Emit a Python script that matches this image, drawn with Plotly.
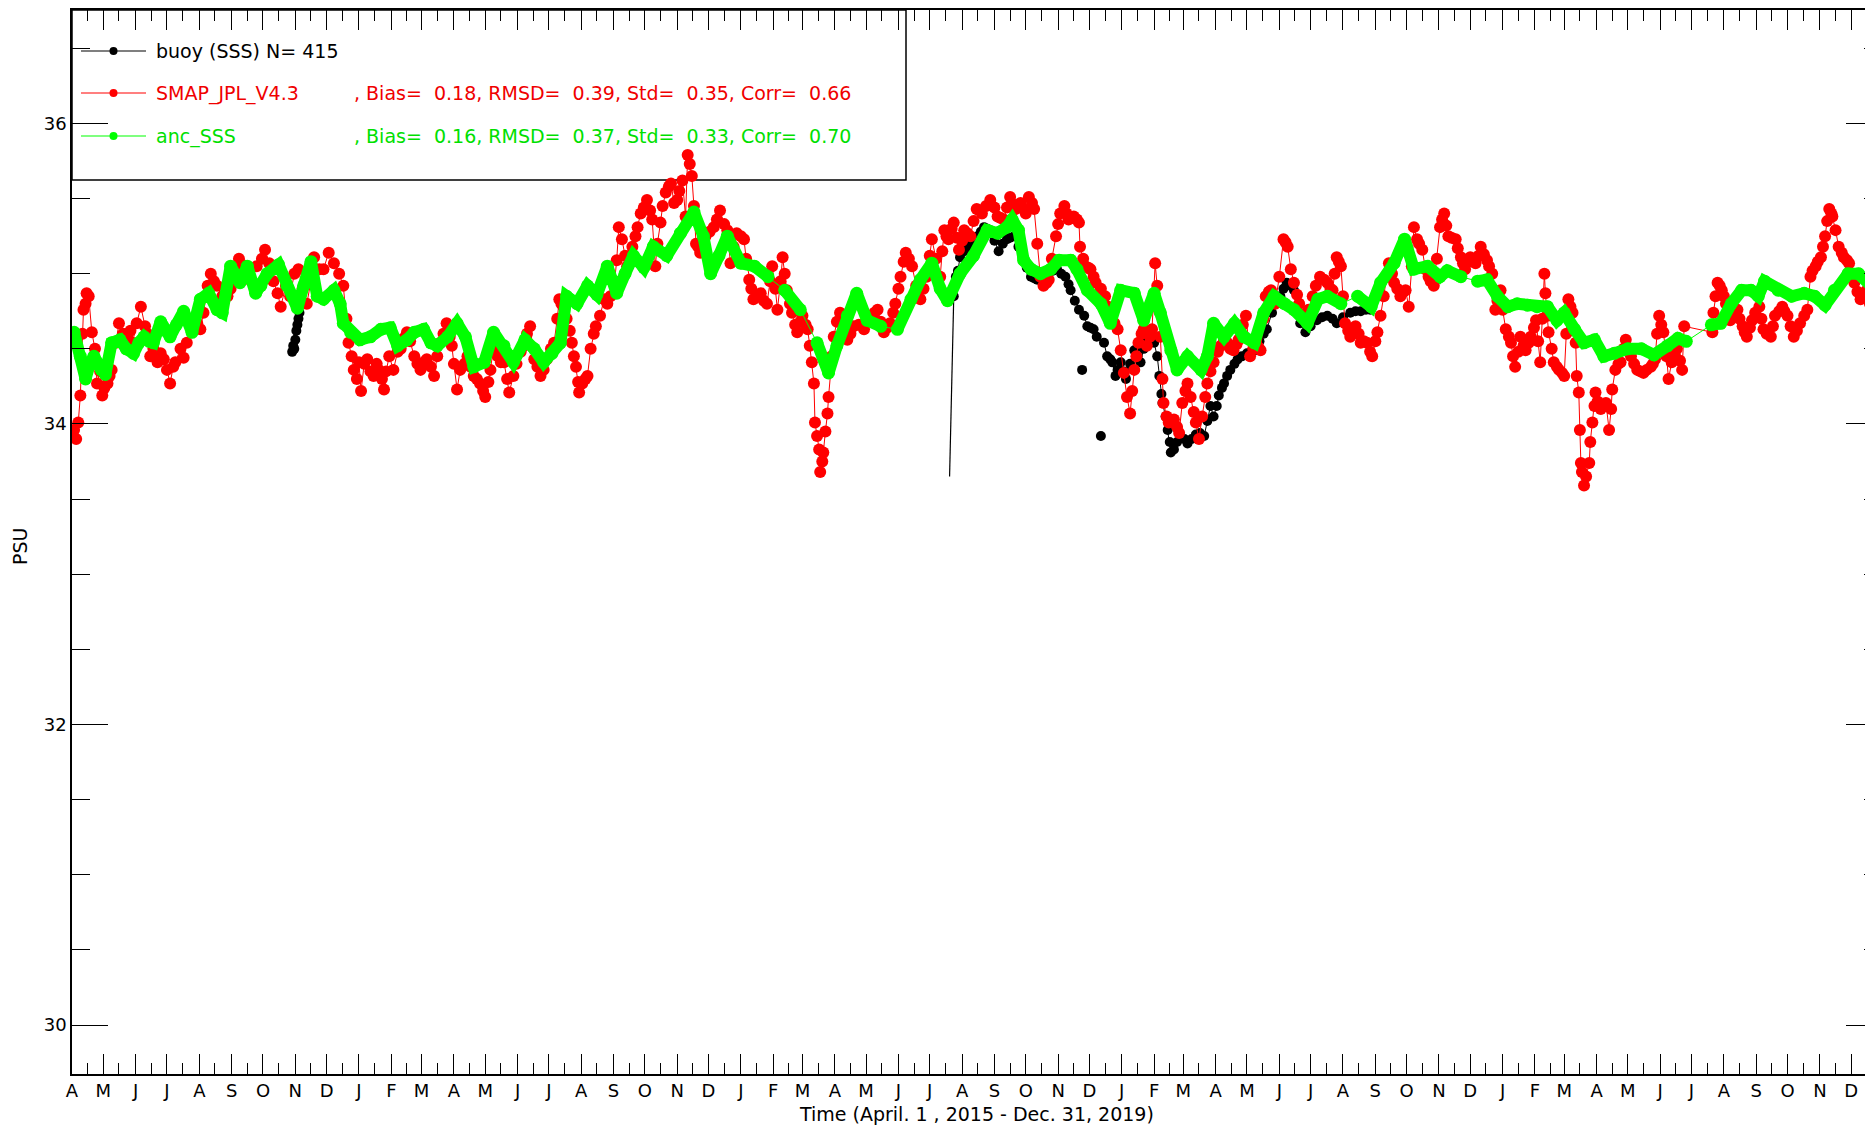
import pandas as pd
import plotly.graph_objects as go

# ---------------- data (days since 2015-04-01, PSU) ----------------
START = "2015-04-01"

buoy_days = [211, 212, 213, 214, 215, 216, 217, 218,
             845, 847, 849, 851, 855, 858, 861, 864, 868, 871, 874, 877, 880, 884, 888, 892, 896, 899,
             903, 907, 911, 915, 919, 922, 925, 929, 932, 935, 940, 944, 948, 952, 955, 957, 961, 965,
             970, 973, 976, 979, 982, 989, 992, 995, 997, 1000, 1002, 1005, 1008, 1010, 1014,
             1018, 1021, 1024, 1027, 1030, 1034, 1037, 1040, 1042, 1044, 1045, 1048, 1050, 1052, 1053,
             1056, 1059, 1062, 1066, 1069, 1073, 1077, 1081, 1085, 1088, 1091, 1094, 1097, 1099, 1102,
             1104, 1107, 1110, 1114, 1117, 1121, 1126, 1130, 1134, 1138, 1142, 1145, 1150, 1154, 1158,
             1161, 1164, 1168, 1171, 1174, 1177, 1182, 1187, 1193, 1198, 1203, 1208, 1212, 1218, 1225,
             1230, 1235, 1240, 1244]
buoy_sss = [34.48, 34.52, 34.50, 34.56, 34.62, 34.66, 34.70, 34.74,
            34.85, 34.98, 35.02, 35.11, 35.15, 35.18, 35.19, 35.20, 35.25, 35.28, 35.31, 35.30, 35.29,
            35.22, 35.15, 35.20, 35.23, 35.24, 35.25, 35.18, 35.11, 35.04, 34.98, 34.97, 34.96, 34.98,
            34.99, 35.00, 35.02, 35.03, 35.00, 34.98, 34.93, 34.89, 34.82, 34.76, 34.72, 34.65,
            34.64, 34.63, 34.58, 34.54, 34.45, 34.43, 34.41, 34.32, 34.36, 34.41, 34.35, 34.30,
            34.40, 34.49, 34.45, 34.41, 34.50, 34.58, 34.56, 34.54, 34.45, 34.32, 34.20, 34.14, 34.05,
            33.96, 33.88, 33.81, 33.83, 33.88, 33.92, 33.90, 33.87, 33.90, 33.93, 33.94, 33.92, 34.02,
            34.12, 34.05, 34.12, 34.19, 34.24, 34.27, 34.32, 34.36, 34.40, 34.43, 34.45, 34.47, 34.48,
            34.49, 34.55, 34.60, 34.63, 34.74, 34.80, 34.85, 34.90, 34.94, 34.92, 34.89, 34.78, 34.67,
            34.61, 34.65, 34.69, 34.71, 34.72, 34.70, 34.67, 34.71, 34.74, 34.75, 34.75, 34.76, 34.76]

# isolated buoy outliers (plotted as dots)
buoy_out_days = [968, 986]
buoy_out_sss = [34.36, 33.92]

# spurious buoy segment (thin line, no marker)
buoy_gap_days = [841, 845]
buoy_gap_sss = [33.65, 34.85]

smap_days = [0, 2, 4, 6, 8, 10, 11, 13, 14, 16, 19, 22, 24, 27, 29, 31, 34, 36, 38, 42, 45, 49, 53, 56,
             58, 62, 66, 70, 72, 75, 78, 82, 85, 88, 91, 94, 97, 99, 104, 107, 110, 115, 120, 123, 126,
             130, 133, 136, 139, 144, 149, 152, 155, 160, 163, 166, 172, 177, 182, 185, 189, 193, 197,
             200, 205, 209, 213, 217, 221, 225, 229, 232, 237, 241, 246, 251, 256, 260, 263, 265, 268,
             270, 273, 275, 277, 280, 283, 286, 289, 292, 294, 297, 299, 301, 304, 308, 312, 315, 318,
             321, 324, 328, 331, 334, 337, 340, 344, 347, 350, 353, 356, 359, 362, 364, 366, 369, 372,
             376, 379, 382, 385, 388, 391, 394, 396, 399, 401, 404, 408, 411,
             414, 417, 419, 423, 426, 430, 433, 436, 439, 443, 446, 449, 452, 455, 459, 462, 465, 467,
             469, 471, 474, 477, 479, 481, 483, 485, 486, 489, 492, 494, 497, 500, 502, 506, 510, 513,
             516, 520, 522, 524, 527, 530, 532, 535, 537, 540, 542, 545, 548, 551, 554, 556, 559, 561,
             564, 566, 569, 572, 574, 577, 580, 582, 585, 588, 590, 592, 594, 596, 598, 600, 602, 605,
             607, 611, 615, 618, 621, 625, 628, 631, 634, 637, 641, 644, 646, 649, 651, 653, 657, 660,
             663, 666, 669, 671, 674, 676, 679, 681, 683, 685, 688, 690, 693, 695, 698, 700, 703, 705,
             707, 709, 711, 712, 714, 716, 717, 719, 720, 722, 724, 725, 728, 730, 733, 736, 740, 743,
             746, 749, 754, 759, 762, 765, 769, 772, 775, 778, 781, 784, 787, 789, 792, 794, 797, 799,
             802, 805, 809, 813, 816, 819, 822, 824,
             828, 832, 834, 836, 838, 840, 843, 845, 848, 850, 853, 855, 858, 861, 864, 867, 870, 872,
             876, 880, 884, 887, 890, 893, 896, 899, 902, 904, 907, 909, 912, 914, 917, 920, 922, 925,
             928, 931, 934, 936, 939, 943, 945, 947, 951, 953, 955, 958, 960, 963, 965, 966, 969, 971,
             974, 976, 979, 981, 986, 990, 993, 995, 999, 1002, 1005, 1008, 1011, 1014, 1016, 1018,
             1020, 1022, 1025, 1027, 1030, 1033, 1035, 1038, 1040, 1042, 1043, 1045, 1046, 1049, 1051,
             1054, 1056, 1059, 1061, 1064, 1067, 1069, 1072, 1075, 1077, 1080, 1083, 1086, 1088, 1091,
             1094, 1098, 1101, 1104, 1107, 1110, 1113, 1116, 1118, 1122, 1125, 1129, 1132, 1134, 1137,
             1139, 1142, 1144, 1147, 1149, 1153, 1157, 1161, 1163, 1165, 1168, 1171, 1174, 1176, 1180,
             1183, 1185, 1189, 1192, 1196, 1200, 1203, 1206, 1208, 1210, 1212, 1214, 1216, 1218, 1220,
             1223, 1225, 1228, 1230, 1233, 1235, 1238, 1241, 1244, 1246, 1249, 1251, 1254, 1257, 1260,
             1262, 1265, 1267, 1270, 1273,
             1276, 1278, 1281, 1284, 1286, 1289, 1291, 1294, 1297, 1300, 1302, 1305, 1308, 1311, 1313,
             1315, 1317, 1319, 1322, 1326, 1328, 1331, 1333, 1335, 1338, 1340, 1343, 1345, 1348, 1350,
             1353, 1356, 1358, 1361, 1364, 1366, 1369, 1371, 1374, 1377, 1379, 1381, 1383, 1386, 1388,
             1391, 1393, 1396, 1398, 1401, 1403, 1405, 1407, 1409, 1411, 1412, 1414, 1415, 1418, 1420,
             1423, 1425, 1428, 1430, 1432, 1434, 1436, 1438, 1440, 1441, 1442, 1444, 1445, 1446, 1447,
             1449, 1451, 1454, 1455, 1457, 1459, 1460, 1462, 1465, 1468, 1470, 1473, 1475, 1476, 1479,
             1482, 1484, 1487, 1489, 1492, 1494, 1497, 1500, 1503, 1506, 1509, 1513, 1515, 1517, 1519,
             1521, 1523, 1525, 1528, 1530, 1533, 1536, 1538, 1541, 1543, 1545, 1572, 1573, 1575, 1577,
             1579, 1581, 1583, 1585, 1587, 1589, 1592, 1596, 1598, 1601, 1603, 1605, 1608, 1610, 1613,
             1617, 1619, 1621, 1624, 1628, 1630, 1632, 1636, 1639, 1641, 1644, 1647, 1650, 1653, 1656,
             1660, 1663, 1666, 1668, 1671, 1673, 1676, 1678, 1680, 1682, 1684, 1686, 1687, 1690, 1693,
             1696, 1698, 1701, 1703, 1706, 1708, 1711, 1714, 1717, 1720, 1723, 1725]
smap_sss = [33.93, 33.96, 33.90, 34.01, 34.19, 34.60, 34.76, 34.80, 34.87, 34.85, 34.61, 34.50, 34.27,
            34.35, 34.19, 34.24, 34.27, 34.32, 34.36, 34.54, 34.67, 34.60, 34.58, 34.62, 34.54, 34.67,
            34.78, 34.65, 34.60, 34.45, 34.50, 34.41, 34.47, 34.43, 34.36, 34.27, 34.38, 34.41, 34.50,
            34.44, 34.54, 34.61, 34.67, 34.63, 34.74, 34.92, 35.00, 34.95, 34.92, 34.85, 34.85, 34.90,
            34.96, 35.10, 35.06, 35.03, 34.95, 35.05, 35.10, 35.16, 35.07, 34.95, 34.87, 34.78, 34.92,
            34.85, 35.00, 35.03, 34.90, 34.80, 34.95, 35.11, 35.03, 35.03, 35.14, 35.07, 35.00, 34.92,
            34.70, 34.54, 34.45, 34.36, 34.30, 34.41, 34.22, 34.40, 34.43, 34.35, 34.32, 34.40, 34.36,
            34.30, 34.23, 34.35, 34.45, 34.36, 34.48, 34.50, 34.57, 34.61, 34.55, 34.45, 34.40, 34.36,
            34.41, 34.43, 34.38, 34.32, 34.45, 34.54, 34.60, 34.67, 34.58, 34.52, 34.40, 34.23, 34.36,
            34.40, 34.45, 34.38, 34.32, 34.30, 34.27, 34.22, 34.18, 34.28, 34.36, 34.50, 34.45, 34.41,
            34.41, 34.30, 34.21, 34.32, 34.40, 34.48, 34.52, 34.60, 34.65, 34.43, 34.38, 34.32, 34.36,
            34.43, 34.50, 34.54, 34.70, 34.83, 34.80, 34.78, 34.70, 34.62, 34.54, 34.45, 34.38, 34.28,
            34.21, 34.27, 34.30, 34.32, 34.50, 34.60, 34.65, 34.72, 34.83, 34.80, 34.85, 34.95, 35.09,
            35.31, 35.23, 35.12, 35.05, 35.12, 35.18, 35.25, 35.31, 35.40, 35.44, 35.49, 35.42, 35.36,
            35.05, 35.20, 35.34, 35.45, 35.54, 35.58, 35.60, 35.47, 35.49, 35.55, 35.62, 35.38, 35.79,
            35.73, 35.65, 35.45, 35.20, 35.18, 35.14, 35.20, 35.25, 35.28, 35.31, 35.36, 35.42, 35.33,
            35.29, 35.07, 35.18, 35.27, 35.25, 35.23, 35.10, 34.96, 34.90, 34.83, 34.85, 34.87, 34.82,
            34.80, 34.95, 35.05, 34.90, 34.76, 34.95, 35.11, 35.00, 34.89, 34.80, 34.74, 34.66, 34.61,
            34.68, 34.72, 34.66, 34.63, 34.52, 34.41, 34.27, 34.01, 33.92, 33.83, 33.68, 33.75, 33.81,
            33.95, 34.07, 34.18, 34.45, 34.58, 34.68, 34.74, 34.65, 34.56, 34.60, 34.65, 34.66, 34.63,
            34.68, 34.72, 34.74, 34.76, 34.68, 34.61, 34.64, 34.67, 34.74, 34.80, 34.90, 34.98, 35.08,
            35.14, 35.10, 35.05, 34.92, 34.83, 34.90, 34.98, 35.12, 35.23,
            35.10, 34.98, 35.15, 35.29, 35.25, 35.23, 35.30, 35.34, 35.24, 35.16, 35.22, 35.29, 35.27,
            35.25, 35.35, 35.43, 35.42, 35.40, 35.45, 35.49, 35.44, 35.38, 35.37, 35.36, 35.44, 35.51,
            35.46, 35.43, 35.45, 35.47, 35.43, 35.40, 35.51, 35.47, 35.43, 35.20, 34.98, 34.92, 34.94,
            34.96, 35.10, 35.25, 35.33, 35.40, 35.45, 35.40, 35.36, 35.37, 35.38, 35.36, 35.34, 35.18,
            35.10, 35.05, 35.04, 35.03, 34.98, 34.94, 34.90, 34.85, 34.78, 34.72, 34.67, 34.63, 34.49,
            34.34, 34.18, 34.07, 34.22, 34.36, 34.45, 34.54, 34.60, 34.63, 34.52, 34.58, 34.63, 35.07,
            34.92, 34.75, 34.58, 34.30, 34.14, 34.05, 34.01, 34.02, 34.03, 33.98, 33.94, 34.14, 34.22,
            34.27, 34.18, 34.08, 34.01, 33.90, 34.05, 34.18, 34.27, 34.35, 34.41, 34.48, 34.52, 34.56,
            34.54, 34.50, 34.49, 34.53, 34.56, 34.66, 34.72, 34.45, 34.50, 34.54, 34.51, 34.49, 34.70,
            34.85, 34.88, 34.89, 34.80, 34.98, 35.23, 35.21, 35.18, 35.03, 34.94, 34.86, 34.80, 34.72,
            34.74, 34.76, 34.85, 34.92, 34.98, 34.96, 34.94, 34.90, 34.89, 35.00, 35.11, 35.08, 35.05,
            34.85, 34.67, 34.62, 34.58, 34.61, 34.65, 34.60, 34.54, 34.55, 34.54, 34.48, 34.45, 34.55,
            34.61, 34.72, 34.85, 34.98, 35.07, 35.00, 34.94, 34.90, 34.85,
            34.88, 34.89, 34.78, 35.05, 35.31, 35.23, 35.20, 35.16, 35.03, 34.98, 34.95, 34.92, 35.10,
            35.31, 35.36, 35.40, 35.32, 35.25, 35.24, 35.23, 35.17, 35.11, 35.07, 35.03, 35.08, 35.11,
            35.09, 35.07, 35.12, 35.18, 35.13, 35.09, 35.05, 35.00, 34.76, 34.82, 34.89, 34.76, 34.63,
            34.58, 34.54, 34.45, 34.38, 34.48, 34.58, 34.52, 34.49, 34.54, 34.58, 34.64, 34.69, 34.55,
            34.41, 34.70, 35.00, 34.87, 34.72, 34.61, 34.50, 34.41, 34.38, 34.36, 34.34, 34.32, 34.60,
            34.83, 34.78, 34.74, 34.62, 34.54, 34.32, 34.21, 33.96, 33.74, 33.68, 33.59, 33.65, 33.74,
            33.88, 34.01, 34.12, 34.21, 34.15, 34.10, 34.12, 34.14, 33.96, 34.10, 34.23, 34.36, 34.40,
            34.41, 34.50, 34.56, 34.50, 34.45, 34.40, 34.36, 34.35, 34.34, 34.36, 34.38, 34.40, 34.43,
            34.60, 34.72, 34.66, 34.61, 34.45, 34.30, 34.41, 34.46, 34.50, 34.42, 34.36, 34.65, 34.61,
            34.74, 34.85, 34.94, 34.92, 34.89, 34.85, 34.80, 34.74, 34.69, 34.72, 34.76, 34.70, 34.65,
            34.61, 34.58, 34.64, 34.69, 34.74, 34.78, 34.70, 34.63, 34.60, 34.58, 34.65, 34.72, 34.75,
            34.78, 34.75, 34.72, 34.65, 34.58, 34.62, 34.67, 34.72, 34.76, 34.98, 35.02, 35.05, 35.08,
            35.11, 35.18, 35.25, 35.35, 35.43, 35.40, 35.38, 35.29, 35.18, 35.14, 35.11, 35.09, 35.07,
            35.00, 34.94, 34.88, 34.83, 34.86, 34.89, 34.80, 34.72]

anc_days = [2, 8, 13, 17, 21, 24, 28, 32, 38, 46, 52, 59, 64, 69, 74, 78, 85, 90, 94, 100, 107, 115, 123,
            131, 139, 144, 152, 161, 168, 176, 181, 187, 198, 206, 216, 222, 229, 235, 241, 251, 257,
            260, 267, 276, 286, 296, 305, 312, 321, 328, 337, 344, 350, 360, 369, 377, 385, 395, 404,
            414, 423, 434, 443, 452, 460, 468, 474, 484, 494, 503, 513, 522, 530, 538, 548, 557, 570,
            583, 596, 605, 612, 620, 628, 641, 654, 667, 683, 698, 714, 725, 733, 743, 752, 762, 775,
            791, 804, 813, 824, 832, 839, 851, 864, 877, 887, 896, 901, 907, 912, 919, 928, 938, 946,
            957, 963, 973, 986, 995, 1005, 1018, 1027, 1037, 1043, 1053, 1059, 1069, 1082, 1088, 1094,
            1104, 1114, 1123, 1133, 1142, 1152, 1162, 1171, 1184, 1194, 1203, 1216, 1232, 1245, 1254,
            1267, 1277, 1286, 1299, 1311, 1318, 1331, 1347, 1356, 1366, 1376, 1385, 1395, 1404, 1414,
            1423, 1430, 1440, 1449, 1459, 1468, 1478, 1491, 1504, 1516, 1529, 1539, 1547, 1571, 1580,
            1590, 1600, 1609, 1616, 1622, 1635, 1648, 1660, 1670, 1680, 1689, 1702, 1712, 1724]
anc_sss = [34.61, 34.45, 34.30, 34.40, 34.45, 34.41, 34.36, 34.33, 34.54, 34.56, 34.50, 34.47, 34.54,
           34.58, 34.55, 34.54, 34.68, 34.62, 34.58, 34.66, 34.75, 34.61, 34.83, 34.87, 34.76, 34.74,
           35.05, 34.94, 35.05, 34.87, 34.92, 35.00, 35.06, 34.92, 34.77, 34.92, 35.08, 34.85, 34.83,
           34.89, 34.80, 34.67, 34.61, 34.56, 34.58, 34.63, 34.64, 34.52, 34.56, 34.61, 34.63, 34.54,
           34.52, 34.58, 34.67, 34.58, 34.38, 34.41, 34.61, 34.52, 34.41, 34.56, 34.50, 34.41, 34.47,
           34.54, 34.85, 34.80, 34.92, 34.86, 35.05, 34.87, 35.00, 35.12, 35.04, 35.18, 35.12, 35.27,
           35.41, 35.25, 35.00, 35.12, 35.25, 35.07, 35.05, 34.98, 34.89, 34.76, 34.54, 34.34, 34.52,
           34.72, 34.87, 34.69, 34.65, 34.63, 34.83, 34.96, 35.07, 34.90, 34.82, 35.00, 35.12, 35.29,
           35.27, 35.31, 35.36, 35.29, 35.09, 35.03, 35.00, 35.03, 35.09, 35.09, 35.03, 34.89, 34.80,
           34.67, 34.89, 34.87, 34.69, 34.87, 34.74, 34.49, 34.36, 34.45, 34.36, 34.45, 34.67, 34.58,
           34.67, 34.58, 34.54, 34.74, 34.85, 34.80, 34.76, 34.67, 34.83, 34.85, 34.80, 34.85, 34.78,
           34.94, 35.07, 35.23, 35.03, 35.05, 34.98, 35.02, 34.98, 34.95, 34.96, 34.85, 34.78, 34.80,
           34.79, 34.78, 34.78, 34.69, 34.74, 34.63, 34.54, 34.56, 34.45, 34.47, 34.50, 34.50, 34.46,
           34.52, 34.57, 34.55, 34.66, 34.67, 34.80, 34.89, 34.89, 34.85, 34.95, 34.89, 34.85, 34.87,
           34.85, 34.79, 34.89, 35.00, 35.00, 34.92]

month_initials = ["J", "F", "M", "A", "M", "J", "J", "A", "S", "O", "N", "D"]

stats_smap = [0.18, 0.39, 0.35, 0.66]
stats_anc = [0.16, 0.37, 0.33, 0.70]
buoy_n = 415

# ---------------- helpers ----------------
base = pd.Timestamp(START)


def to_dates(days):
    return [base + pd.Timedelta(days=d) for d in days]


def broken(days, vals, max_gap):
    """dates/values with a break wherever coverage has a gap"""
    xs, ys = [], []
    for i, (d, v) in enumerate(zip(days, vals)):
        if i > 0 and d - days[i - 1] > max_gap:
            xs.append(None)
            ys.append(None)
        xs.append(base + pd.Timedelta(days=d))
        ys.append(v)
    return xs, ys


# page is offset by the default 8 px body margin
OFF = 8
W, H = 1873 - OFF, 1127 - OFF
L, R, T, B = 64, 0, 2, 53
PW, PH = W - L - R, H - T - B


def px(xp):  # page pixel -> paper
    return (xp - OFF - L) / PW


def py(yp):
    return (H - B - (yp - OFF)) / PH


FONT = "DejaVu Sans"
RED = "#ff0000"
GREEN = "#00ff00"
Y_RANGE = [29.674, 36.755]

band_x, band_y = broken(anc_days, anc_sss, 15)
buoy_x, buoy_y = broken(buoy_days, buoy_sss, 15)

fig = go.Figure()
fig.add_trace(go.Scatter(x=to_dates(buoy_gap_days), y=buoy_gap_sss, mode="lines",
                         line=dict(color="black", width=1.2), showlegend=False, hoverinfo="skip"))
fig.add_trace(go.Scatter(x=buoy_x, y=buoy_y, mode="lines+markers", connectgaps=False,
                         line=dict(color="black", width=1),
                         marker=dict(color="black", size=10), showlegend=False))
fig.add_trace(go.Scatter(x=to_dates(buoy_out_days), y=buoy_out_sss, mode="markers",
                         marker=dict(color="black", size=10), showlegend=False))
fig.add_trace(go.Scatter(x=to_dates(smap_days), y=smap_sss, mode="lines+markers",
                         line=dict(color=RED, width=1),
                         marker=dict(color=RED, size=12), showlegend=False))
fig.add_trace(go.Scatter(x=band_x, y=band_y, mode="lines", connectgaps=False,
                         line=dict(color=GREEN, width=12), showlegend=False, hoverinfo="skip"))
fig.add_trace(go.Scatter(x=to_dates(anc_days), y=anc_sss, mode="lines+markers",
                         line=dict(color=GREEN, width=1),
                         marker=dict(color=GREEN, size=13), showlegend=False))
# empty trace carrying the right-hand tick axis
fig.add_trace(go.Scatter(x=[], y=[], yaxis="y2", showlegend=False, hoverinfo="skip"))

# axis ticks
month_starts = pd.date_range("2015-04-01", "2019-12-01", freq="MS")
tick_text = [month_initials[m.month - 1] for m in month_starts]
mid_months = [m + pd.Timedelta(days=15) for m in month_starts]
x_end = base + pd.Timedelta(days=PW / 1.0435)

fig.update_layout(
    width=W, height=H, autosize=False,
    margin=dict(l=L, r=R, t=T, b=B, pad=0),
    paper_bgcolor="white", plot_bgcolor="white",
    font=dict(family=FONT, size=16, color="black"),
    showlegend=False,
    xaxis=dict(type="date", range=[base, x_end],
               tickmode="array", tickvals=list(month_starts), ticktext=tick_text,
               ticks="inside", ticklen=20, tickwidth=1.2, tickcolor="black",
               showline=True, linecolor="black", linewidth=1.5, mirror="ticks",
               showgrid=False, zeroline=False,
               tickfont=dict(family=FONT, size=18, color="black"),
               minor=dict(tickmode="array", tickvals=mid_months, ticks="inside",
                          ticklen=11, tickwidth=1.2, tickcolor="black", showgrid=False)),
    yaxis=dict(range=Y_RANGE, tickmode="linear", tick0=30, dtick=2,
               ticks="inside", ticklen=36, tickwidth=1.2, tickcolor="black",
               showline=True, linecolor="black", linewidth=1.5, mirror=False,
               showgrid=False, zeroline=False,
               tickfont=dict(family=FONT, size=18, color="black"),
               minor=dict(tick0=30, dtick=0.5, ticks="inside", ticklen=18,
                          tickwidth=1.2, tickcolor="black", showgrid=False)),
    yaxis2=dict(range=Y_RANGE, overlaying="y", side="right", anchor="x",
                tickmode="linear", tick0=30, dtick=2, showticklabels=False,
                ticks="inside", ticklen=27, tickwidth=1.2, tickcolor="black",
                showline=False, showgrid=False, zeroline=False,
                minor=dict(tick0=30, dtick=0.5, ticks="inside", ticklen=9,
                           tickwidth=1.2, tickcolor="black", showgrid=False)),
)

# legend box and entries (IDL-style)
shapes = [dict(type="rect", xref="paper", yref="paper", x0=px(72), x1=px(906), y0=py(180), y1=py(10),
               line=dict(color="black", width=1.5), fillcolor="rgba(0,0,0,0)", layer="below")]
rows = [("black", "black", 51, "buoy (SSS) N=\u00a0" + str(buoy_n), None),
        (RED, "#f00000", 93, "SMAP_JPL_V4.3", stats_smap),
        (GREEN, "#00e000", 136, "anc_SSS", stats_anc)]
annotations = []
for col, tcol, yrow, name, st in rows:
    shapes.append(dict(type="line", xref="paper", yref="paper", x0=px(81), x1=px(146),
                       y0=py(yrow), y1=py(yrow), line=dict(color=col, width=1.2)))
    shapes.append(dict(type="circle", xref="paper", yref="paper", x0=px(109.5), x1=px(117.5),
                       y0=py(yrow + 4), y1=py(yrow - 4), line=dict(color=col, width=0), fillcolor=col))
    annotations.append(dict(xref="paper", yref="paper", x=px(154), y=py(yrow), xanchor="left",
                            yanchor="middle", showarrow=False, text=name,
                            font=dict(family=FONT, size=19, color=tcol)))
    if st is not None:
        sp = "\u00a0\u00a0"
        txt = (", Bias=" + sp + f"{st[0]:.2f}, RMSD=" + sp + f"{st[1]:.2f}, Std=" + sp +
               f"{st[2]:.2f}, Corr=" + sp + f"{st[3]:.2f}")
        annotations.append(dict(xref="paper", yref="paper", x=px(352), y=py(yrow), xanchor="left",
                                yanchor="middle", showarrow=False, text=txt,
                                font=dict(family=FONT, size=19, color=tcol)))

annotations.append(dict(xref="paper", yref="paper", x=px(20), y=py(547), textangle=-90,
                        xanchor="center", yanchor="middle", showarrow=False, text="PSU",
                        font=dict(family=FONT, size=19, color="black")))
annotations.append(dict(xref="paper", yref="paper", x=px(976), y=py(1114), xanchor="center",
                        yanchor="middle", showarrow=False,
                        text="Time (April. 1 , 2015 - Dec. 31, 2019)",
                        font=dict(family=FONT, size=19, color="black")))

fig.update_layout(shapes=shapes, annotations=annotations)

fig.write_html("out.html")
